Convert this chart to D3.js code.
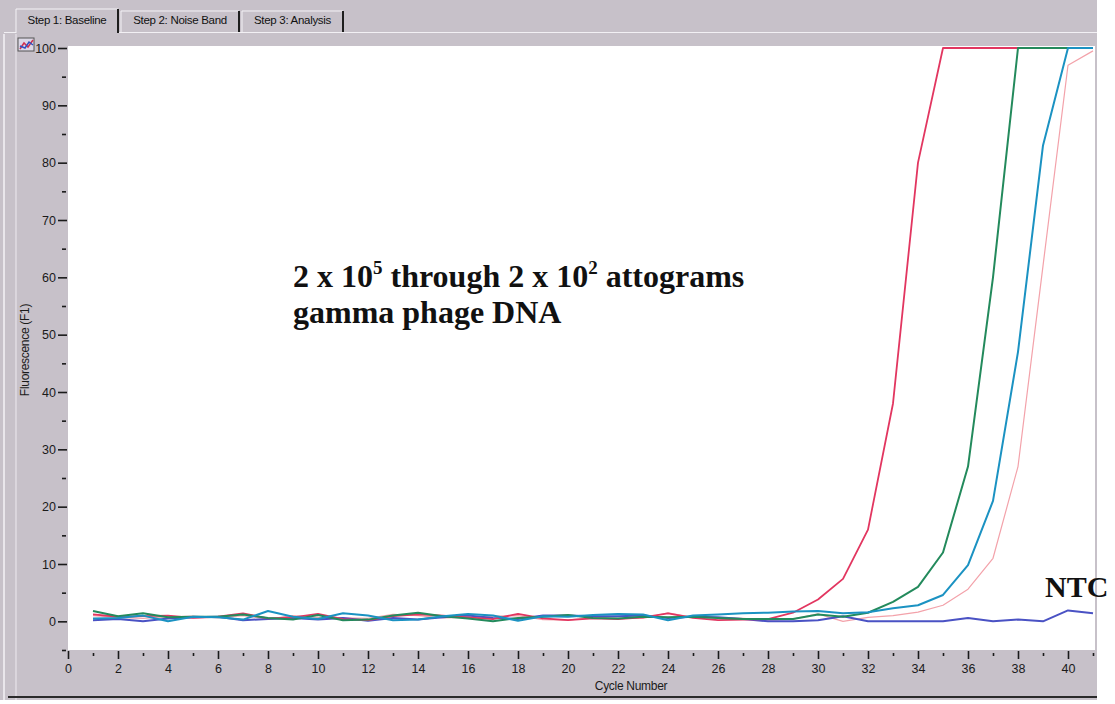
<!DOCTYPE html>
<html>
<head>
<meta charset="utf-8">
<script src="https://cdn.jsdelivr.net/npm/d3@7"></script>
<style>
  body { margin: 0; background: #fff; }
  svg { display: block; }
</style>
</head>
<body>
<div id="chart"></div>
<script>
// cycle numbers on the x axis
var cycles = [1,2,3,4,5,6,7,8,9,10,11,12,13,14,15,16,17,18,19,20,
              21,22,23,24,25,26,27,28,29,30,31,32,33,34,35,36,37,38,39,40,41];

// fluorescence (F1) per cycle
var redSeries   = [1.2,0.8,0.9,1.0,0.6,0.8,1.4,0.5,0.7,1.3,0.4,0.2,0.9,1.2,1.0,0.7,0.4,1.3,0.5,0.2,
                   0.5,0.4,0.7,1.4,0.6,0.2,0.3,0.4,1.5,3.8,7.4,16,38,80,100,100,100,100,100,100,100];
var greenSeries = [1.8,0.9,1.4,0.7,0.8,0.8,1.2,0.6,0.3,1.1,0.2,0.3,1.0,1.5,0.9,0.5,0.0,0.6,0.8,1.1,
                   0.6,0.5,0.8,0.7,0.8,0.6,0.4,0.4,0.4,1.2,0.8,1.5,3.4,6.0,12,27,60,100,100,100,100];
var cyanSeries  = [0.5,0.6,1.0,0.0,0.8,0.7,0.3,1.8,0.8,0.4,1.4,1.0,0.2,0.3,0.9,1.3,1.0,0.1,0.9,0.8,
                   1.1,1.3,1.2,0.2,1.0,1.2,1.4,1.5,1.7,1.8,1.4,1.6,2.3,2.8,4.6,9.8,21,47,83,100,100];
var pinkSeries  = [1.0,0.7,0.5,0.8,0.9,0.6,1.0,0.4,1.0,0.7,0.6,0.5,1.2,1.0,0.6,0.7,0.9,1.0,0.3,0.2,
                   0.7,0.5,0.5,1.5,0.7,0.6,0.5,0.2,0.4,1.3,0.0,0.7,1.0,1.6,2.8,5.6,11,27,62,97,99.5];
var ntcSeries   = [0.2,0.4,0.0,0.5,0.7,0.8,0.2,0.4,0.6,0.3,0.6,0.1,0.6,0.3,0.7,1.0,0.6,0.4,1.0,1.0,
                   0.9,0.9,1.0,0.6,0.8,0.7,0.4,0.0,0.0,0.2,0.9,0.0,0.0,0.0,0.0,0.6,0.0,0.3,0.0,1.9,1.4];

// tick labels
var yMajor = [0,10,20,30,40,50,60,70,80,90,100];
var yMinor = [-5,5,15,25,35,45,55,65,75,85,95];
var xMajor = [0,2,4,6,8,10,12,14,16,18,20,22,24,26,28,30,32,34,36,38,40];
var xMinor = [1,3,5,7,9,11,13,15,17,19,21,23,25,27,29,31,33,35,37,39,41];

var tabNames = ["Step 1: Baseline", "Step 2: Noise Band", "Step 3: Analysis"];

var width = 1115;
var height = 704;
var panelColor = "#c7c1c9";
var plotLeft = 68, plotRight = 1095, plotTop = 46, plotBottom = 650;

var svg = d3.select("#chart")
    .append("svg")
        .attr("width", width)
        .attr("height", height);

// window panel
svg.append("rect")
    .attr("x", 0).attr("y", 0)
    .attr("width", 1097).attr("height", 700)
    .attr("fill", panelColor);

// left window borders
svg.append("line").attr("x1", 4).attr("x2", 4).attr("y1", 34).attr("y2", 700)
    .attr("stroke", "#f4f2f6").attr("stroke-width", 1.5);
svg.append("line").attr("x1", 16).attr("x2", 16).attr("y1", 34).attr("y2", 700)
    .attr("stroke", "#eeeaf0").attr("stroke-width", 1);

// bottom dark border
svg.append("line").attr("x1", 8).attr("x2", 1097).attr("y1", 697).attr("y2", 697)
    .attr("stroke", "#2a2a2a").attr("stroke-width", 2);

// tabs
var tabs = [
    {x: 16, w: 102, top: 9, bottom: 33},
    {x: 121, w: 118, top: 11, bottom: 32},
    {x: 242, w: 101, top: 11, bottom: 32}
];
svg.append("line").attr("x1", 118).attr("x2", 1097).attr("y1", 32.5).attr("y2", 32.5)
    .attr("stroke", "#f2f0f4").attr("stroke-width", 1);
svg.append("line").attr("x1", 4).attr("x2", 16).attr("y1", 32.5).attr("y2", 32.5)
    .attr("stroke", "#f2f0f4").attr("stroke-width", 1);

tabs.forEach(function(t, i) {
    var g = svg.append("g");
    g.append("rect")
        .attr("x", t.x).attr("y", t.top)
        .attr("width", t.w).attr("height", t.bottom - t.top)
        .attr("fill", panelColor);
    // light left/top edge
    g.append("path")
        .attr("d", "M" + t.x + "," + t.bottom + "V" + t.top + "H" + (t.x + t.w))
        .attr("fill", "none").attr("stroke", "#f4f2f6").attr("stroke-width", 1);
    // dark right edge
    g.append("line")
        .attr("x1", t.x + t.w).attr("x2", t.x + t.w)
        .attr("y1", t.top).attr("y2", t.bottom)
        .attr("stroke", "#1e1e1e").attr("stroke-width", 2);
    g.append("text")
        .attr("x", t.x + t.w / 2).attr("y", 24)
        .attr("text-anchor", "middle")
        .style("font-family", "'Liberation Sans', Arial, sans-serif")
        .style("font-size", "11.5px")
        .style("letter-spacing", "-0.3px")
        .attr("fill", "#111")
        .text(tabNames[i]);
});

// plot area
svg.append("rect")
    .attr("x", plotLeft).attr("y", plotTop)
    .attr("width", plotRight - plotLeft).attr("height", plotBottom - plotTop)
    .attr("fill", "#fff");

var x = d3.scaleLinear().domain([0, 41]).range([68, 1093]);
var y = d3.scaleLinear().domain([-5, 100]).range([650, 48]);

var tickFont = "'Liberation Sans', Arial, sans-serif";

// y axis
var yAxis = svg.append("g")
    .attr("transform", "translate(" + (plotLeft - 1) + ",0)")
    .call(d3.axisLeft(y).tickValues(yMajor).tickSize(9).tickPadding(2));
svg.append("g")
    .attr("transform", "translate(" + (plotLeft - 2) + ",0)")
    .call(d3.axisLeft(y).tickValues(yMinor).tickSize(4).tickFormat(""));

// x axis
var xAxis = svg.append("g")
    .attr("transform", "translate(0," + (plotBottom + 1) + ")")
    .call(d3.axisBottom(x).tickValues(xMajor).tickSize(8).tickPadding(5));
svg.append("g")
    .attr("transform", "translate(0," + (plotBottom + 3) + ")")
    .call(d3.axisBottom(x).tickValues(xMinor).tickSize(3).tickFormat(""));

svg.selectAll(".domain").remove();
svg.selectAll(".tick line").attr("stroke", "#1a1a1a").attr("stroke-width", 1.6);
svg.selectAll(".tick text")
    .attr("fill", "#1a1a1a")
    .style("font-family", tickFont)
    .style("font-size", "12.5px");

// axis titles
svg.append("text")
    .attr("x", 631).attr("y", 690)
    .attr("text-anchor", "middle")
    .style("font-family", tickFont)
    .style("font-size", "12px")
    .style("letter-spacing", "-0.3px")
    .attr("fill", "#1a1a1a")
    .text("Cycle Number");

svg.append("text")
    .attr("transform", "translate(29,350) rotate(-90)")
    .attr("text-anchor", "middle")
    .style("font-family", tickFont)
    .style("font-size", "12px")
    .style("letter-spacing", "-0.3px")
    .attr("fill", "#1a1a1a")
    .text("Fluorescence (F1)");

// small chart icon in the corner
var icon = svg.append("g").attr("transform", "translate(18,38)");
icon.append("rect").attr("width", 16).attr("height", 13)
    .attr("fill", "#dcd8e6").attr("stroke", "#555").attr("stroke-width", 1);
icon.append("polyline").attr("points", "2,11 6,5 10,9 15,2")
    .attr("fill", "none").attr("stroke", "#d03050").attr("stroke-width", 1.5);
icon.append("polyline").attr("points", "2,8 7,10 11,4 15,7")
    .attr("fill", "none").attr("stroke", "#3050c0").attr("stroke-width", 1.5);

// curves
svg.append("clipPath").attr("id", "plotClip")
    .append("rect")
        .attr("x", plotLeft).attr("y", plotTop)
        .attr("width", plotRight - plotLeft).attr("height", plotBottom - plotTop);

var series = [
    {values: pinkSeries,  color: "#f3a2aa", w: 1.2},
    {values: ntcSeries,   color: "#4a52c4", w: 2},
    {values: redSeries,   color: "#e23660", w: 1.8},
    {values: greenSeries, color: "#238a5c", w: 2},
    {values: cyanSeries,  color: "#1b92c2", w: 2}
];

var line = d3.line()
    .x(function(d) { return x(d[0]); })
    .y(function(d) { return y(d[1]); });

var curves = svg.append("g").attr("clip-path", "url(#plotClip)");
series.forEach(function(s) {
    var pts = cycles.map(function(c, i) { return [c, s.values[i]]; });
    curves.append("path")
        .datum(pts)
        .attr("d", line)
        .attr("fill", "none")
        .attr("stroke", s.color)
        .attr("stroke-width", s.w)
        .attr("stroke-linejoin", "round");
});

// annotations
var serif = "'Liberation Serif', 'Times New Roman', serif";
var note = svg.append("text")
    .attr("x", 293).attr("y", 287)
    .style("font-family", serif)
    .style("font-weight", "bold")
    .style("font-size", "32px")
    .attr("fill", "#111");
note.append("tspan").text("2 x 10");
note.append("tspan").attr("dy", -13).style("font-size", "19px").text("5");
note.append("tspan").attr("dy", 13).text(" through 2 x 10");
note.append("tspan").attr("dy", -13).style("font-size", "19px").text("2");
note.append("tspan").attr("dy", 13).text(" attograms");

svg.append("text")
    .attr("x", 293).attr("y", 323)
    .style("font-family", serif)
    .style("font-weight", "bold")
    .style("font-size", "32px")
    .attr("fill", "#111")
    .text("gamma phage DNA");

svg.append("text")
    .attr("x", 1045).attr("y", 597)
    .style("font-family", serif)
    .style("font-weight", "bold")
    .style("font-size", "30px")
    .attr("fill", "#111")
    .text("NTC");
</script>
</body>
</html>
